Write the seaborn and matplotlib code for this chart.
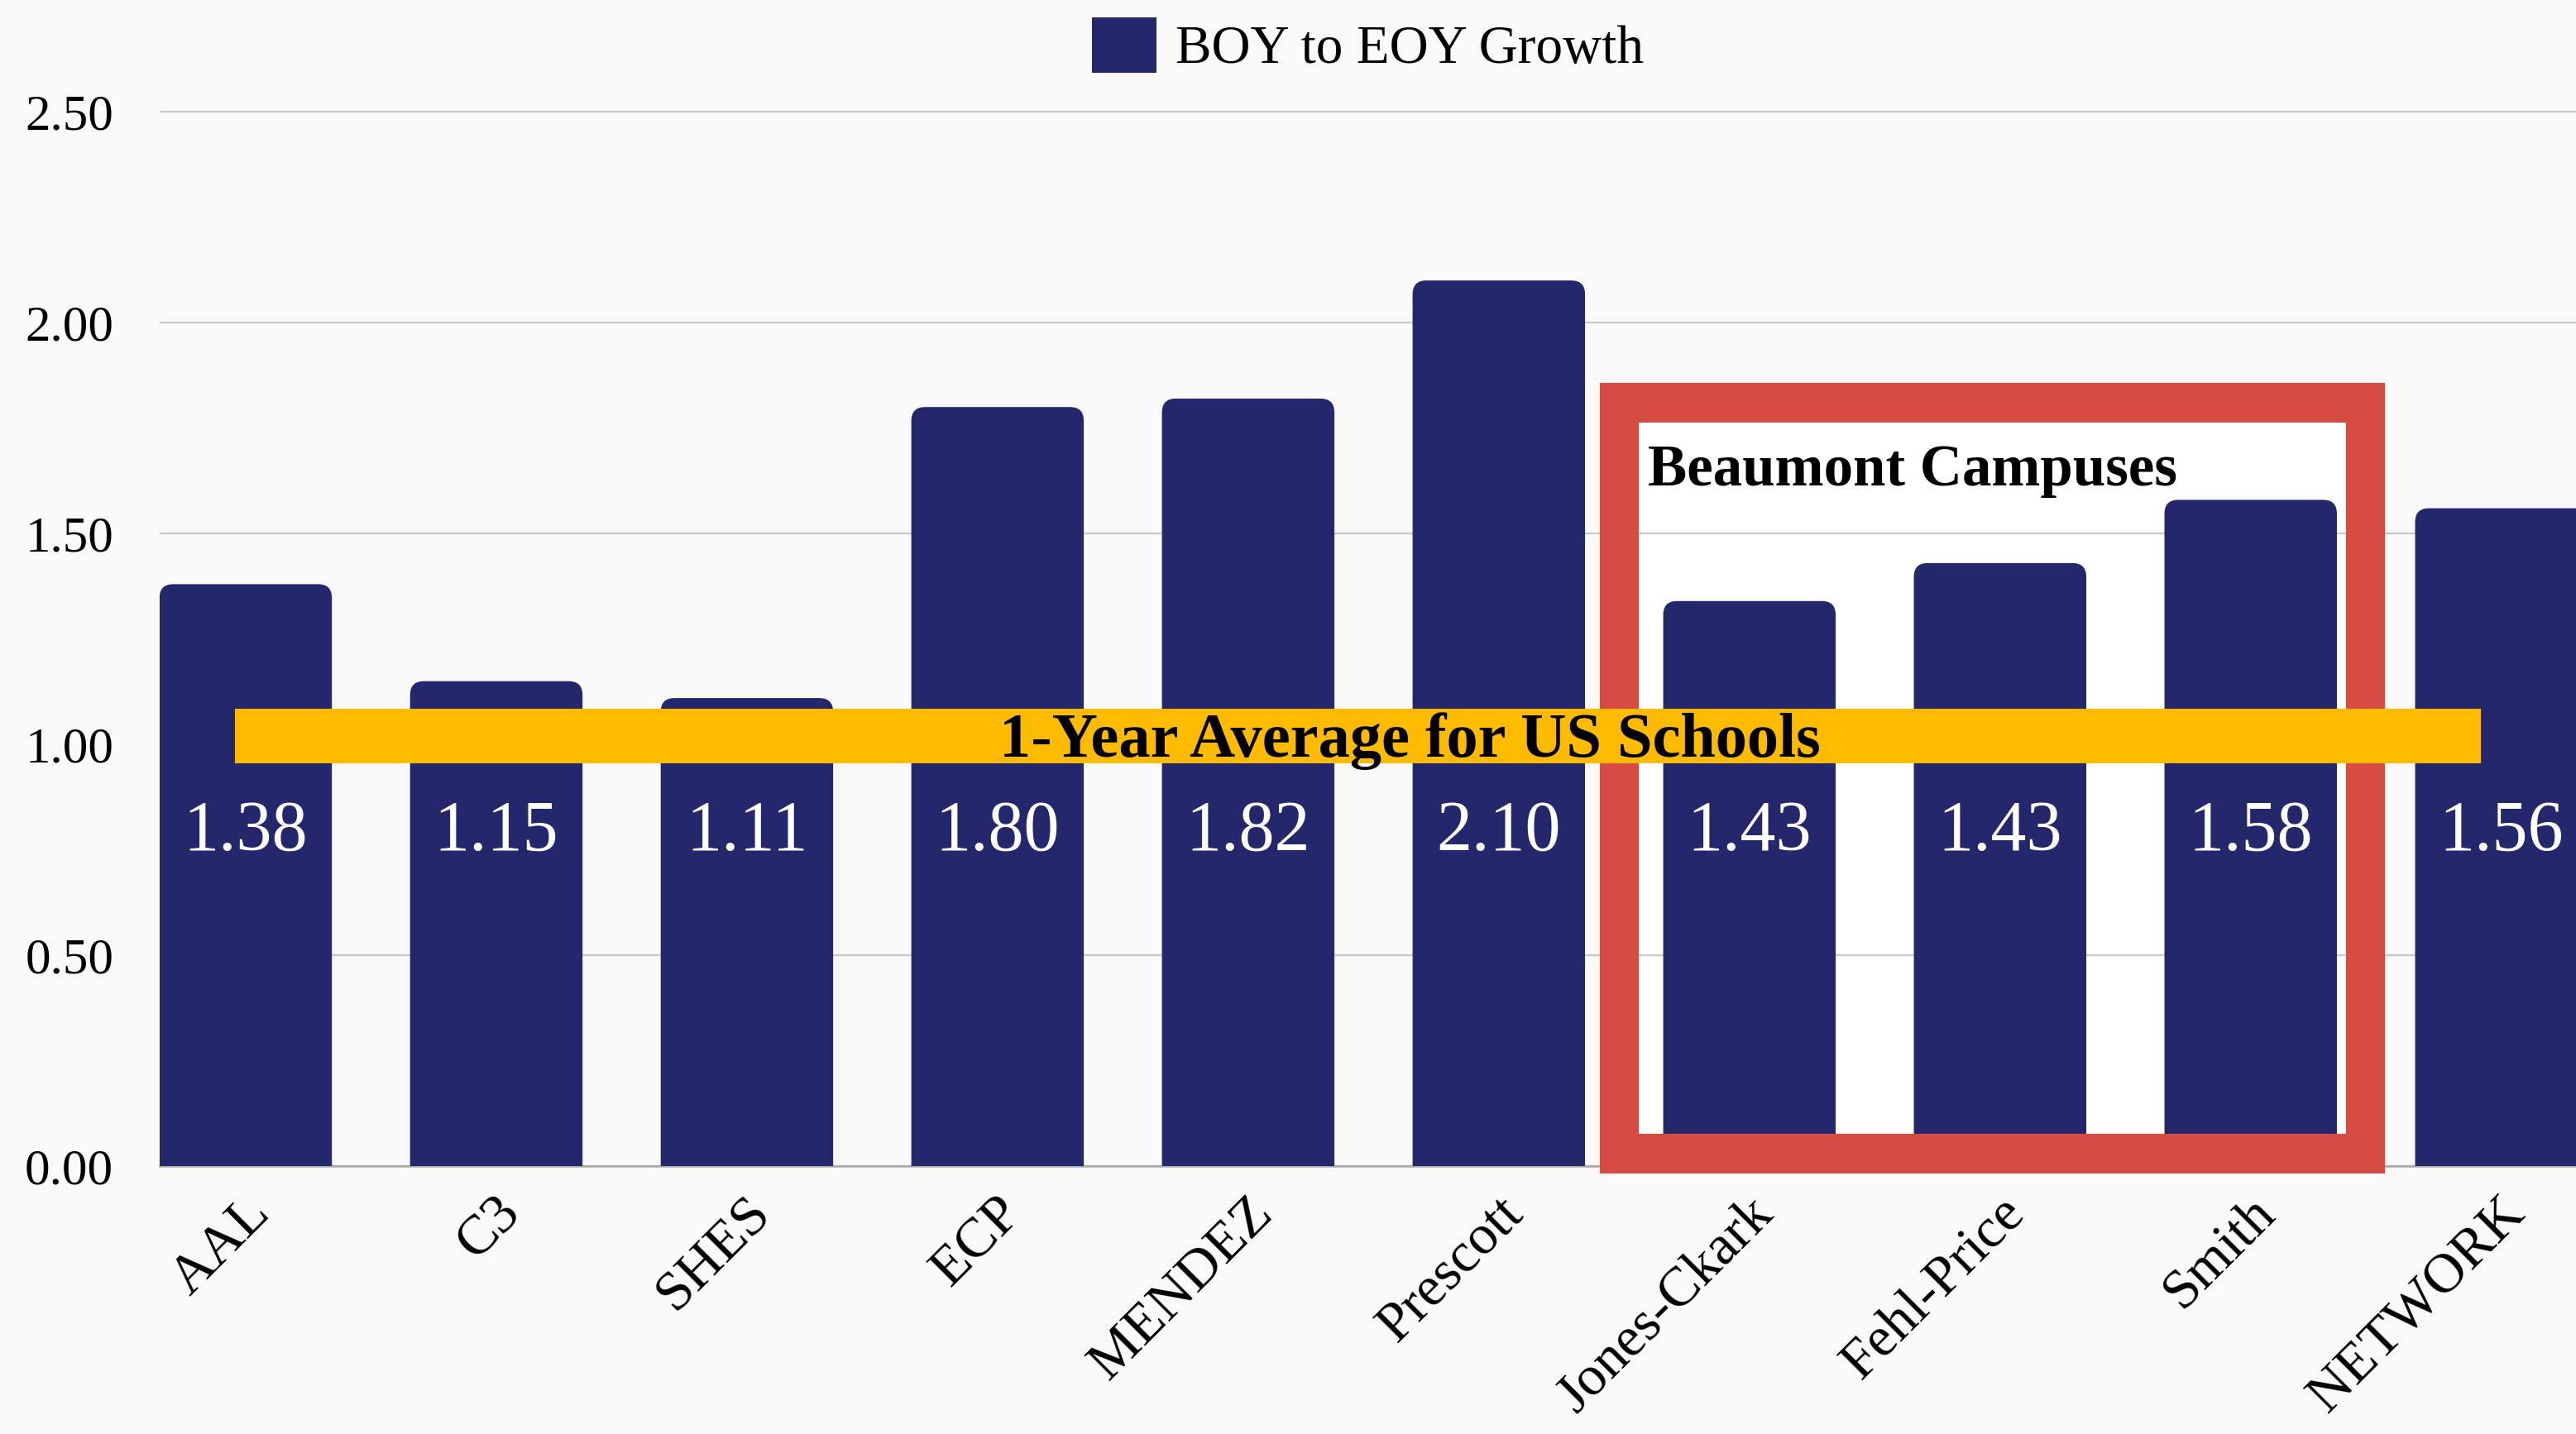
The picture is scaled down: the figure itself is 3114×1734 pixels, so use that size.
import matplotlib
matplotlib.use("Agg")
import matplotlib.pyplot as plt
import matplotlib.transforms as mtransforms
import seaborn as sns
import pandas as pd
from matplotlib.patches import FancyBboxPatch, Rectangle, Patch

# ---- data ----
schools = ["AAL", "C3", "SHES", "ECP", "MENDEZ", "Prescott",
           "Jones-Ckark", "Fehl-Price", "Smith", "NETWORK"]
growth = [1.38, 1.15, 1.11, 1.80, 1.82, 2.10, 1.34, 1.43, 1.58, 1.56]
value_labels = ["1.38", "1.15", "1.11", "1.80", "1.82", "2.10",
                "1.43", "1.43", "1.58", "1.56"]
series_name = "BOY to EOY Growth"
us_average = 1.02
avg_text = "1-Year Average for US Schools"
group_text = "Beaumont Campuses"
group_members = ["Jones-Ckark", "Fehl-Price", "Smith"]
yticks = [0.0, 0.5, 1.0, 1.5, 2.0, 2.5]

NAVY = "#25276D"
GOLD = "#FFBB00"
RED = "#D64C43"
BG = "#F9F9F9"

sns.set_style("white")
plt.rcParams["font.family"] = ["Liberation Serif", "DejaVu Serif"]
plt.rcParams["text.color"] = "black"
plt.rcParams["xtick.color"] = "black"
plt.rcParams["ytick.color"] = "black"

fig = plt.figure(figsize=(31.14, 17.34), dpi=100, facecolor=BG)
ax = fig.add_axes([0.0619, 0.18671, 1 - 0.0619, 1 - 0.18671])
ax.set_facecolor(BG)

df = pd.DataFrame({"school": schools, "growth": growth})
sns.barplot(data=df, x="school", y="growth", color=NAVY, width=0.688,
            saturation=1, ax=ax, zorder=3)

ax.set_xlim(-0.344, 9.298)
ax.set_ylim(0, 2.765)

# replace plain bars by bars with rounded top corners
rx = 0.055
asp = 0.594
for p in list(ax.patches):
    x, w, h = p.get_x(), p.get_width(), p.get_height()
    p.remove()
    fb = FancyBboxPatch((x, -0.3), w, h + 0.3,
                        boxstyle=f"round,pad=0,rounding_size={rx}",
                        mutation_aspect=asp, facecolor=NAVY,
                        edgecolor="none", zorder=3)
    ax.add_patch(fb)

# value labels inside bars
for i, lab in enumerate(value_labels):
    ax.text(i, 0.75, lab, ha="center", va="baseline", color="white",
            fontsize=62, zorder=6)

# grid & axes styling
ax.set_yticks(yticks)
ax.set_yticklabels([f"{v:.2f}" for v in yticks])
ax.yaxis.grid(True, color="#C8C8C8", linewidth=1.6, zorder=1)
ax.set_axisbelow(True)
for s in ["top", "right", "left"]:
    ax.spines[s].set_visible(False)
ax.spines["bottom"].set_color("#A8A8A8")
ax.spines["bottom"].set_linewidth(1.8)
ax.tick_params(axis="y", length=0, pad=40, labelsize=44, labelcolor="black")
ax.tick_params(axis="x", length=0, pad=34, labelsize=49, labelcolor="black")
ax.set_xlabel("")
ax.set_ylabel("")
shift = mtransforms.ScaledTranslation(14 / 72, 0, fig.dpi_scale_trans)
for t in ax.get_xticklabels():
    t.set_rotation(45)
    t.set_ha("right")
    t.set_rotation_mode("anchor")
    t.set_va("center")
    t.set_transform(t.get_transform() + shift)

# Beaumont highlight box
i0 = schools.index(group_members[0])
i1 = schools.index(group_members[-1])
bx0, bx1 = i0 - 0.597, i1 + 0.536
by0, by1 = -0.017, 1.857
ax.add_patch(Rectangle((bx0, by0), bx1 - bx0, by1 - by0, facecolor="white",
                       edgecolor="none", zorder=0.5, clip_on=False))
tx, ty = 0.155, 0.093
for (x, y, w, h) in [(bx0, by0, tx, by1 - by0), (bx1 - tx, by0, tx, by1 - by0),
                     (bx0, by1 - ty, bx1 - bx0, ty), (bx0, by0, bx1 - bx0, ty)]:
    ax.add_patch(Rectangle((x, y), w, h, facecolor=RED, edgecolor="none",
                           zorder=4, clip_on=False))
ax.text(bx0 + 0.193, 1.614, group_text, ha="left", va="baseline",
        fontsize=51, fontweight="bold", color="black", zorder=7)

# US average band
ax.add_patch(Rectangle((-0.043, us_average - 0.064), 8.963, 0.128,
                       facecolor=GOLD, edgecolor="none", zorder=5))
ax.text(4.644, us_average - 0.049, avg_text, ha="center", va="baseline",
        fontsize=55, fontweight="bold", color="black", zorder=7)

# legend
handle = Patch(facecolor=NAVY, edgecolor="none", label=series_name)
leg = fig.legend(handles=[handle], loc="center", bbox_to_anchor=(0.531, 0.968),
                 frameon=False, fontsize=47, handlelength=1.2, handleheight=1.2,
                 handletextpad=0.35)
for t in leg.get_texts():
    t.set_color("black")

fig.savefig("out.png", dpi=100, facecolor=BG)
